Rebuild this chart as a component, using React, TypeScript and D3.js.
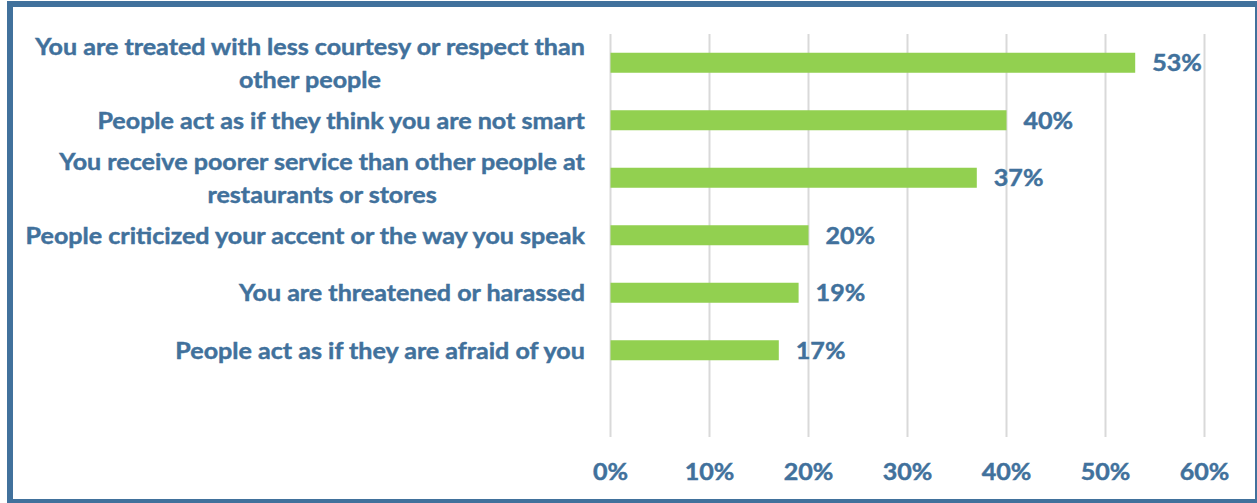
import React, { useEffect, useRef } from "react";
import * as d3 from "d3";

const categories: string[][] = [
  ["You are treated with less courtesy or respect than", "other people"],
  ["People act as if they think you are not smart"],
  ["You receive poorer service than other people at", "restaurants or stores"],
  ["People criticized your accent or the way you speak"],
  ["You are threatened or harassed"],
  ["People act as if they are afraid of you"],
];
const values: number[] = [0.53, 0.4, 0.37, 0.2, 0.19, 0.17];
const ticks: number[] = [0, 0.1, 0.2, 0.3, 0.4, 0.5, 0.6];

const W = 1257;
const H = 503;
const BLUE = "#41719C";
const GREEN = "#92D050";
const GRID = "#D9D9D9";
const FONT = "Lato, 'Open Sans', sans-serif";
const FS = 23;

export default function App() {
  const ref = useRef<SVGSVGElement | null>(null);

  useEffect(() => {
    const svg = d3.select(ref.current);
    svg.selectAll("*").remove();

    const x = d3.scaleLinear().domain([0, 0.6]).range([610.5, 1204.5]);
    const ids = categories.map((_, i) => String(i));
    const y = d3
      .scaleBand<string>()
      .domain(ids)
      .range([34, 379])
      .paddingInner(0.652)
      .paddingOuter(0.326);
    const gridTop = 34;
    const gridBottom = 437;

    svg.append("rect").attr("x", 0).attr("y", 0).attr("width", W).attr("height", H).attr("fill", "#fff");

    const probe = svg
      .append("text")
      .attr("font-family", FONT)
      .attr("font-weight", 700)
      .attr("font-size", FS)
      .text(categories[0][0]);
    const measured = (probe.node() as SVGTextElement).getComputedTextLength();
    probe.remove();
    const k = measured > 0 ? 550 / measured : 1;

    svg
      .append("g")
      .selectAll("line")
      .data(ticks)
      .join("line")
      .attr("x1", (d) => x(d))
      .attr("x2", (d) => x(d))
      .attr("y1", gridTop)
      .attr("y2", gridBottom)
      .attr("stroke", GRID)
      .attr("stroke-width", 2);

    svg
      .append("g")
      .selectAll("rect")
      .data(values)
      .join("rect")
      .attr("x", x(0))
      .attr("y", (_, i) => y(String(i)) as number)
      .attr("width", (d) => x(d) - x(0))
      .attr("height", y.bandwidth())
      .attr("fill", GREEN);

    const addText = (
      g: any,
      tx: number,
      ty: number,
      str: string,
      anchor: string
    ) => {
      g.append("g")
        .attr("transform", `translate(${tx},${ty}) scale(${k},1)`)
        .append("text")
        .attr("text-anchor", anchor)
        .attr("font-family", FONT)
        .attr("font-weight", 700)
        .attr("font-size", FS)
        .attr("fill", BLUE)
        .attr("stroke", BLUE)
        .attr("stroke-width", 0.45)
        .text(str);
    };

    const vg = svg.append("g");
    values.forEach((v, i) => {
      const cy = (y(String(i)) as number) + y.bandwidth() / 2;
      addText(vg, x(v) + 17, cy + 8.5, `${Math.round(v * 100)}%`, "start");
    });

    const cg = svg.append("g");
    const lineH = 33;
    categories.forEach((lines, i) => {
      const cy = (y(String(i)) as number) + y.bandwidth() / 2;
      const widths = lines.map((l) => {
        const t = svg
          .append("text")
          .attr("font-family", FONT)
          .attr("font-weight", 700)
          .attr("font-size", FS)
          .text(l);
        const w = (t.node() as SVGTextElement).getComputedTextLength() * k;
        t.remove();
        return w;
      });
      const maxW = Math.max(...widths);
      const cx = 585 - maxW / 2;
      const n = lines.length;
      lines.forEach((l, j) => {
        const by = cy + 8.3 + (j - (n - 1) / 2) * lineH;
        addText(cg, cx, by, l, "middle");
      });
    });

    const tg = svg.append("g");
    ticks.forEach((t) => {
      addText(tg, x(t), 479.5, `${Math.round(t * 100)}%`, "middle");
    });

    svg
      .append("rect")
      .attr("x", 10)
      .attr("y", 4)
      .attr("width", 1248)
      .attr("height", 498)
      .attr("fill", "none")
      .attr("stroke", BLUE)
      .attr("stroke-width", 6);
  }, []);

  return (
    <svg
      ref={ref}
      width={W}
      height={H}
      style={{ position: "absolute", left: 0, top: 0, display: "block" }}
    />
  );
}
